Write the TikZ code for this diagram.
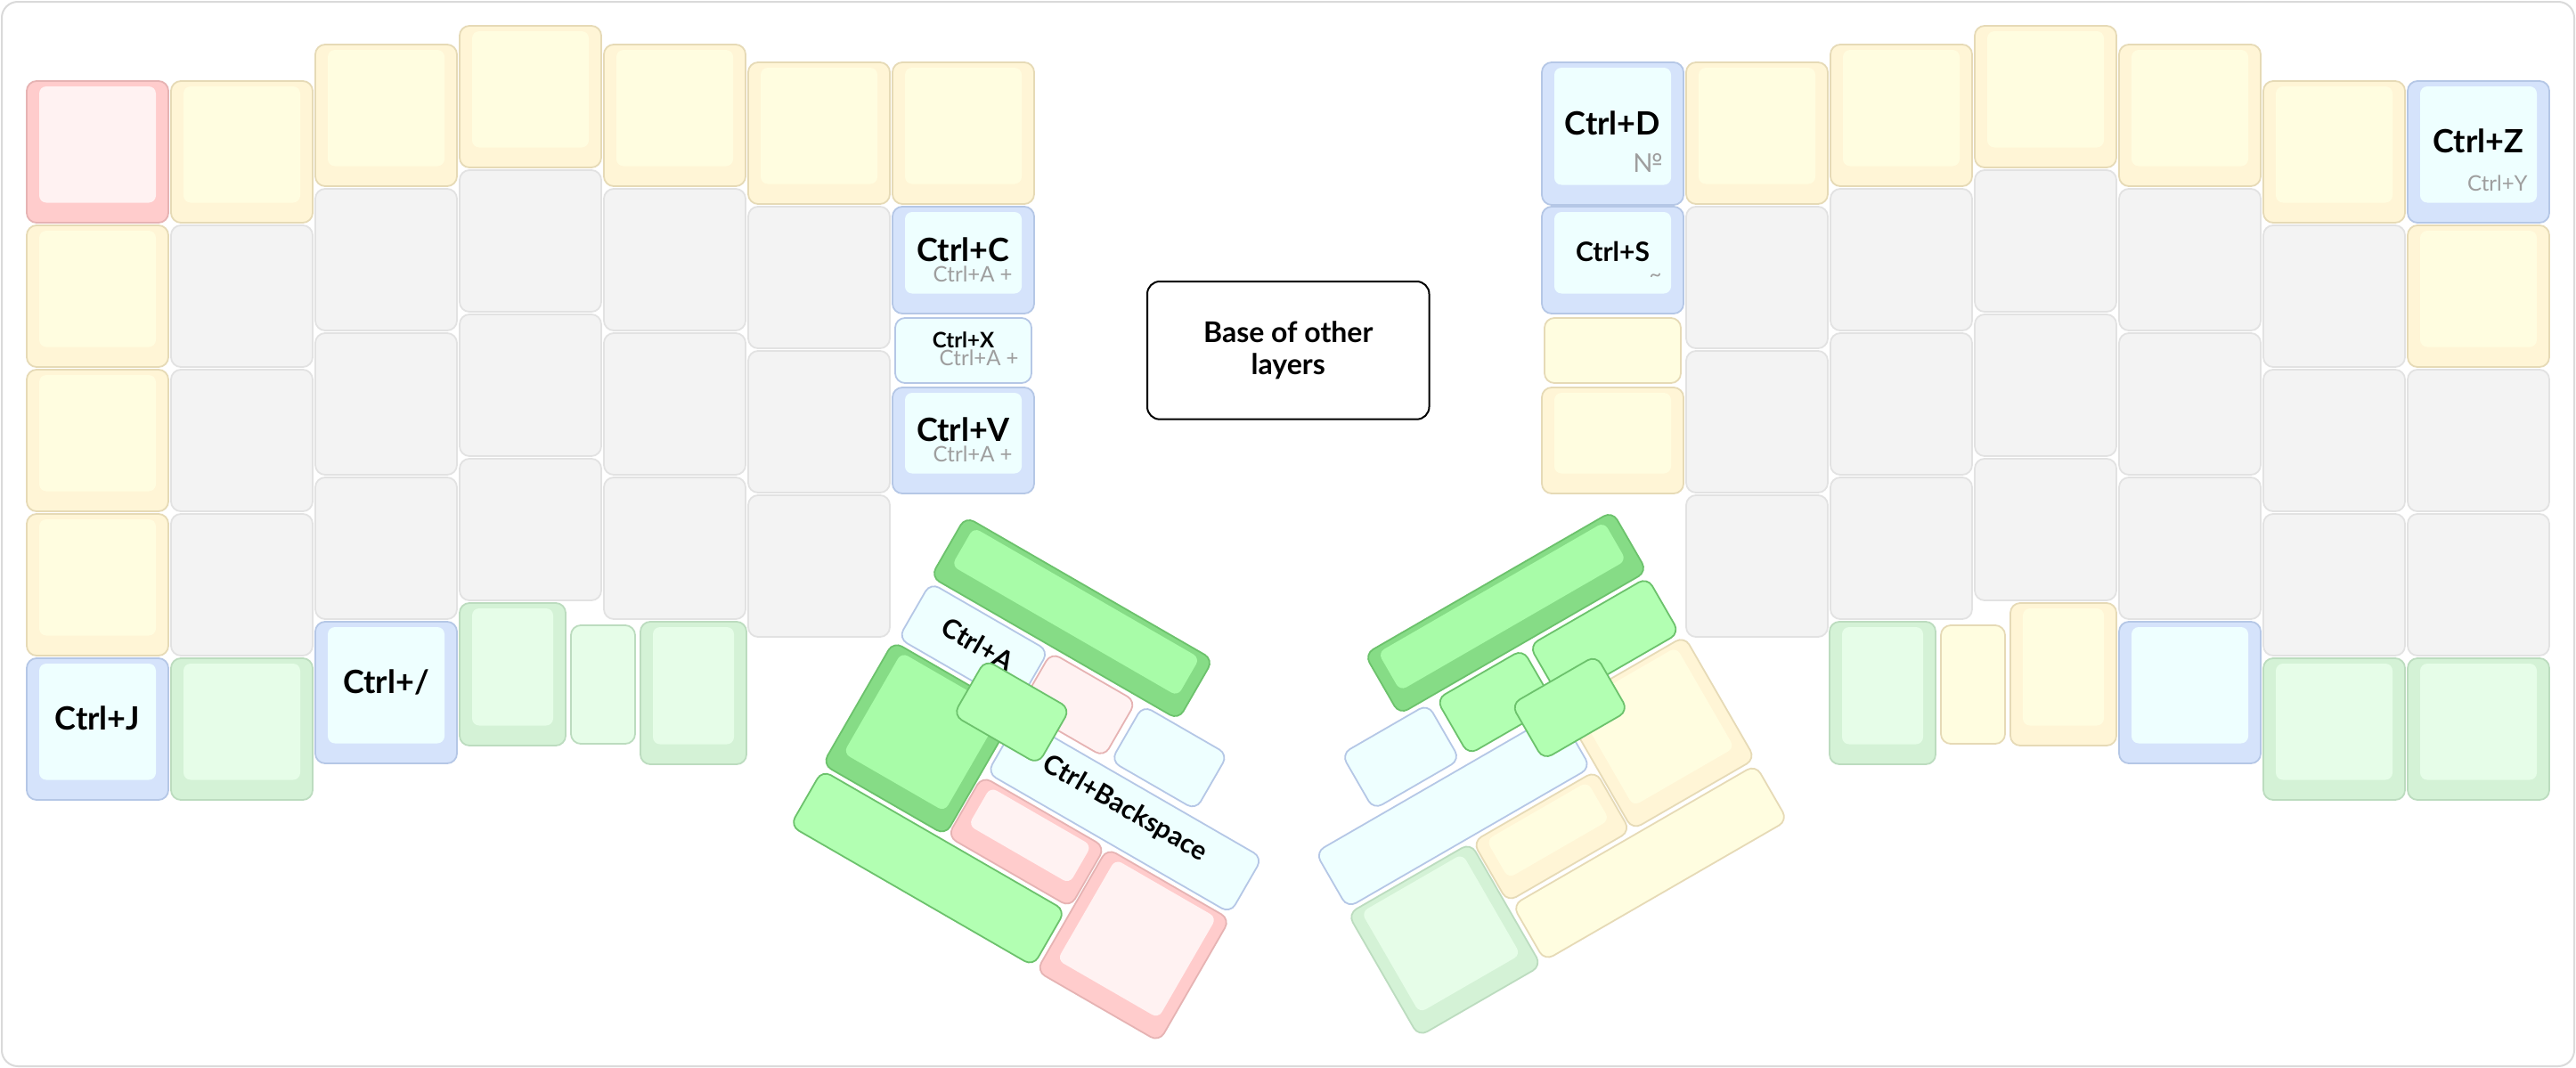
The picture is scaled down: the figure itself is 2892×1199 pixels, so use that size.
\documentclass[tikz,border=0pt]{standalone}
\usepackage{fontspec}
\setmainfont{Lato}
\definecolor{yeO}{HTML}{FFF5D6}\definecolor{yeI}{HTML}{FFFDE0}\definecolor{yeB}{HTML}{E6DAB6}\definecolor{yeF}{HTML}{FFFDE0}
\definecolor{reO}{HTML}{FFCCCC}\definecolor{reI}{HTML}{FFF2F2}\definecolor{reB}{HTML}{E6B3B3}\definecolor{reF}{HTML}{FFF2F2}
\definecolor{blO}{HTML}{D5E3FB}\definecolor{blI}{HTML}{EEFFFF}\definecolor{blB}{HTML}{B5C7E6}\definecolor{blF}{HTML}{EEFFFF}
\definecolor{lgO}{HTML}{D4F2D6}\definecolor{lgI}{HTML}{E6FDE8}\definecolor{lgB}{HTML}{BCDCBF}\definecolor{lgF}{HTML}{E6FDE8}
\definecolor{bgO}{HTML}{86DC86}\definecolor{bgI}{HTML}{A8FCA8}\definecolor{bgB}{HTML}{6CC26C}\definecolor{bgF}{HTML}{B2FFB2}
\definecolor{grF}{HTML}{F3F3F3}\definecolor{grB}{HTML}{E2E2E2}
\definecolor{subc}{HTML}{9E9E9E}\definecolor{framec}{HTML}{DADADA}
\newcommand\KK[5]{%
  \pgfmathsetmacro\kxa{#1}\pgfmathsetmacro\kya{#2}%
  \pgfmathsetmacro\kxb{#1+#3}\pgfmathsetmacro\kyb{#2+#4}%
  \draw[kout,draw=#5B,fill=#5O] (\kxa,\kya) rectangle (\kxb,\kyb);
  \fill[kin,fill=#5I] ({\kxa+14},{\kya+6}) rectangle ({\kxb-14},{\kyb-22.5});}
\newcommand\KF[5]{%
  \pgfmathsetmacro\kxa{#1}\pgfmathsetmacro\kya{#2}%
  \pgfmathsetmacro\kxb{#1+#3}\pgfmathsetmacro\kyb{#2+#4}%
  \draw[kout,draw=#5B,fill=#5F] (\kxa,\kya) rectangle (\kxb,\kyb);}
\newcommand\RK[5]{\KK{#1-#3/2}{#2-#4/2}{#3}{#4}{#5}}
\newcommand\RF[5]{\KF{#1-#3/2}{#2-#4/2}{#3}{#4}{#5}}
\begin{document}
\begin{tikzpicture}[x=0.5pt,y=-0.5pt,
  kout/.style={line width=0.9pt,rounded corners=5.5pt},
  kin/.style={rounded corners=4pt},
  mainlab/.style={inner sep=0pt,anchor=base,font=\bfseries\fontsize{18}{20}\selectfont},
  sublab/.style={inner sep=0pt,anchor=base east,text=subc,font=\fontsize{12}{14}\selectfont},
  thumblab/.style={inner sep=0pt,anchor=base,rotate=-30,font=\bfseries\fontsize{15}{17}\selectfont}]
\useasboundingbox (0,0) rectangle (2892,1199);
\fill[white] (0,0) rectangle (2892,1199);
\draw[draw=framec,line width=1pt,rounded corners=9pt] (2,2) rectangle (2890,1197);
% ---- left half ----
\KK{30}{91}{159}{159}{re}\KK{30}{253}{159}{159}{ye}\KK{30}{415}{159}{159}{ye}\KK{30}{577}{159}{159}{ye}\KK{30}{739}{159}{159}{bl}
\KK{192}{91}{159}{159}{ye}\KF{192}{253}{159}{159}{gr}\KF{192}{415}{159}{159}{gr}\KF{192}{577}{159}{159}{gr}\KK{192}{739}{159}{159}{lg}
\KK{354}{50}{159}{159}{ye}\KF{354}{212}{159}{159}{gr}\KF{354}{374}{159}{159}{gr}\KF{354}{536}{159}{159}{gr}\KK{354}{698}{159}{159}{bl}
\KK{516}{29}{159}{159}{ye}\KF{516}{191}{159}{159}{gr}\KF{516}{353}{159}{159}{gr}\KF{516}{515}{159}{159}{gr}
\KK{516}{677}{119}{160}{lg}\KF{641}{702}{72}{133}{lg}\KK{719}{698}{119}{160}{lg}
\KK{678}{50}{159}{159}{ye}\KF{678}{212}{159}{159}{gr}\KF{678}{374}{159}{159}{gr}\KF{678}{536}{159}{159}{gr}
\KK{840}{70}{159}{159}{ye}\KF{840}{232}{159}{159}{gr}\KF{840}{394}{159}{159}{gr}\KF{840}{556}{159}{159}{gr}
\KK{1002}{70}{159}{159}{ye}\KK{1002}{232}{159}{120}{bl}\KF{1005}{357}{153}{73}{bl}\KK{1002}{435}{159}{119}{bl}
% ---- right half ----
\KK{1731}{70}{159}{160}{bl}\KK{1731}{232}{159}{120}{bl}\KF{1734}{357}{153}{73}{ye}\KK{1731}{435}{159}{119}{ye}
\KK{1893}{70}{159}{159}{ye}\KF{1893}{232}{159}{159}{gr}\KF{1893}{394}{159}{159}{gr}\KF{1893}{556}{159}{159}{gr}
\KK{2055}{50}{159}{159}{ye}\KF{2055}{212}{159}{159}{gr}\KF{2055}{374}{159}{159}{gr}\KF{2055}{536}{159}{159}{gr}
\KK{2054}{698}{119}{160}{lg}\KF{2179}{702}{72}{133}{ye}\KK{2257}{677}{119}{160}{ye}
\KK{2217}{29}{159}{159}{ye}\KF{2217}{191}{159}{159}{gr}\KF{2217}{353}{159}{159}{gr}\KF{2217}{515}{159}{159}{gr}
\KK{2379}{50}{159}{159}{ye}\KF{2379}{212}{159}{159}{gr}\KF{2379}{374}{159}{159}{gr}\KF{2379}{536}{159}{159}{gr}\KK{2379}{698}{159}{159}{bl}
\KK{2541}{91}{159}{159}{ye}\KF{2541}{253}{159}{159}{gr}\KF{2541}{415}{159}{159}{gr}\KF{2541}{577}{159}{159}{gr}\KK{2541}{739}{159}{159}{lg}
\KK{2703}{91}{159}{159}{bl}\KK{2703}{253}{159}{159}{ye}\KF{2703}{415}{159}{159}{gr}\KF{2703}{577}{159}{159}{gr}\KK{2703}{739}{159}{159}{lg}
% ---- labels ----
\node[mainlab] (cj) at (109.5,819.75) {Ctrl+J};
\node[mainlab] (cslash) at (433.5,778.75) {Ctrl+/};
\node[mainlab] (cc) at (1081.5,293.25) {Ctrl+C};
\node[sublab] (ccs) at (1137,316) {Ctrl+A +};
\node[mainlab,font=\bfseries\fontsize{12}{14}\selectfont] (cx) at (1081.5,390.7) {Ctrl+X};
\node[sublab] (cxs) at (1144,410.7) {Ctrl+A +};
\node[mainlab] (cv) at (1081.5,495.75) {Ctrl+V};
\node[sublab] (cvs) at (1137,518) {Ctrl+A +};
\node[mainlab] (cd) at (1810.5,151.25) {Ctrl+D};
\node[sublab,font=\fontsize{14.5}{16}\selectfont] (cds) at (1867,193) {№};
\node[mainlab,font=\bfseries\fontsize{15}{17}\selectfont] (cs) at (1810.5,293.25) {Ctrl+S};
\node[sublab] (css) at (1866,316) {\textasciitilde};
\node[mainlab] (cz) at (2782.5,171.75) {Ctrl+Z};
\node[sublab] (czs) at (2838,214) {Ctrl+Y};
\node[draw=black,line width=1pt,rounded corners=7pt,minimum width=158.25pt,minimum height=77.35pt,
  align=center,font=\bfseries\fontsize{16}{17.85}\selectfont] (base) at (1446.25,393.35) {Base of other\\layers};
% ---- left thumb cluster ----
\begin{scope}[shift={(1203.5,694)},rotate=-30]
\RK{0}{0}{321}{78}{bg}
\RF{-81}{81}{153}{72}{bl}
\RF{54}{81}{110}{72}{re}
\RF{173}{81}{110}{72}{bl}
\RK{-81}{202.5}{159}{159}{bg}
\RF{162}{162}{315}{72}{bl}
\RK{81}{243}{159}{78}{re}
\RF{0}{324}{315}{72}{bg}
\RK{243}{283.5}{159}{159}{re}
\node[thumblab] (ca) at (-77,89) {Ctrl+A};
\node[thumblab] (cbs) at (158.5,164) {Ctrl+Backspace};
\RF{-6}{125}{110}{72}{bg}
\end{scope}
% ---- right thumb cluster ----
\begin{scope}[shift={(1690.5,688)},xscale=-1,rotate=-30]
\RK{0}{0}{321}{78}{bg}
\RF{-81}{81}{153}{72}{bg}
\RF{60}{81}{112}{72}{bg}
\RF{183}{81}{112}{72}{bl}
\RK{-81}{202.5}{159}{159}{ye}
\RF{162}{162}{315}{72}{bl}
\RK{81}{243}{159}{78}{ye}
\RF{0}{324}{315}{72}{ye}
\RK{243}{283.5}{159}{159}{lg}
\RF{-9}{128}{110}{72}{bg}
\end{scope}
\end{tikzpicture}
\end{document}
